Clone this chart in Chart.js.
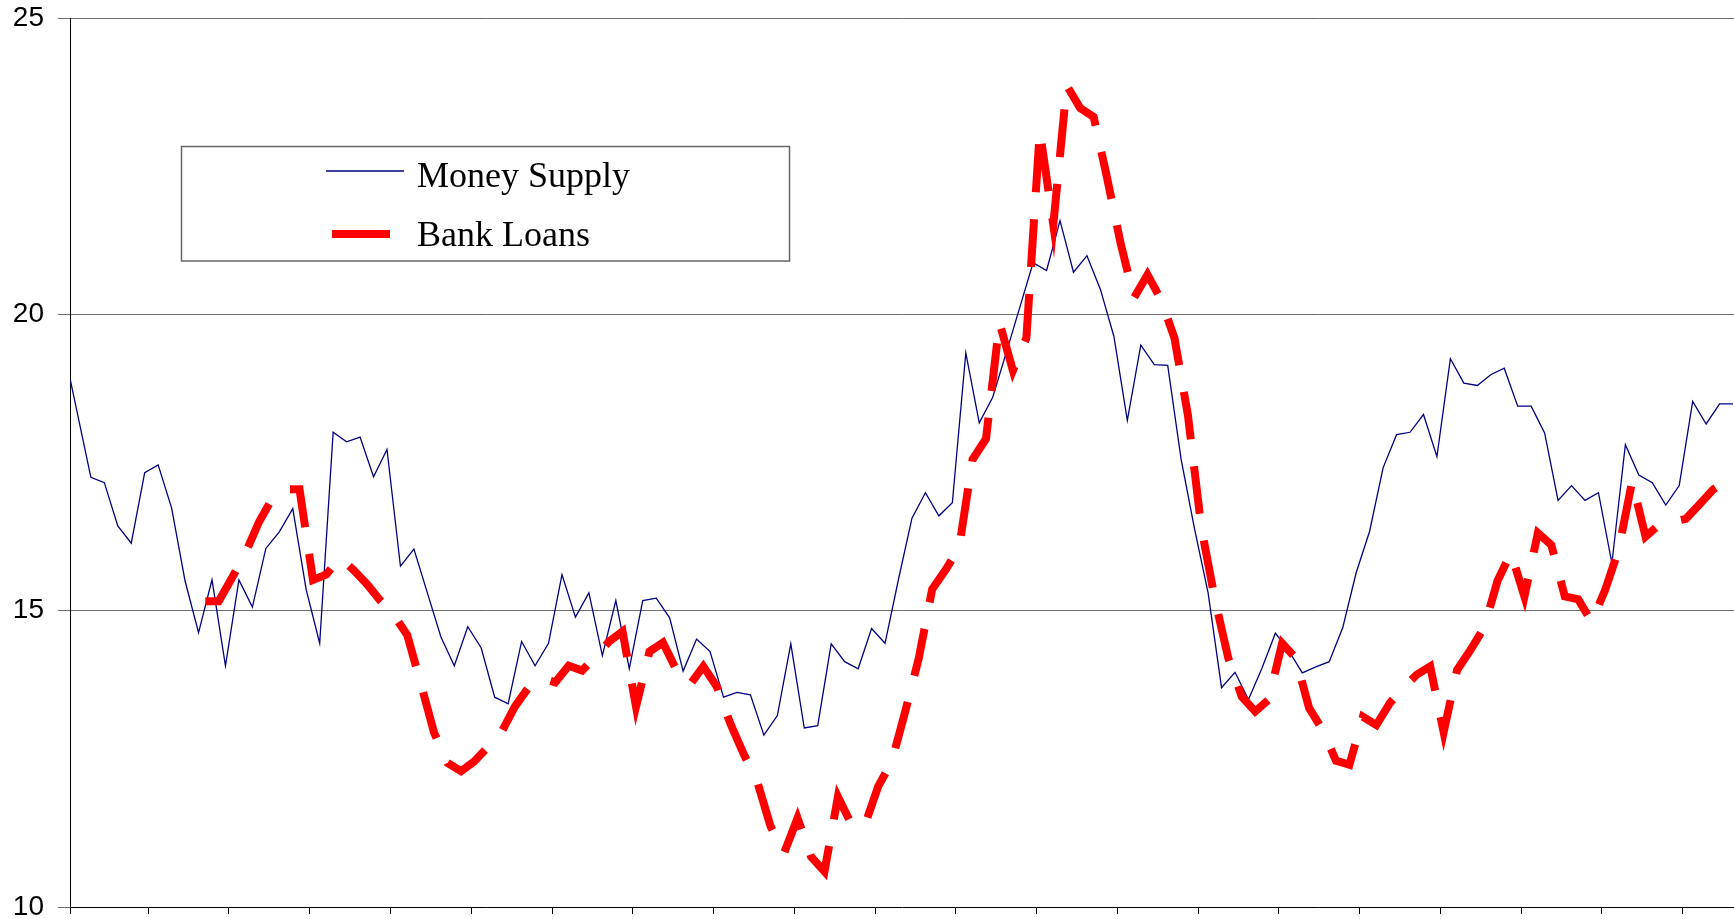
<!DOCTYPE html>
<html lang="en">
<head>
    <meta charset="UTF-8">
    <title>Money Supply and Bank Loans</title>
    <style>
        body {
            margin: 0;
            background-color: #ffffff;
        }
        #chart {
            display: block;
        }
    </style>
</head>
<body>

<canvas id="chart" width="1734" height="919"></canvas>

<script src="https://cdn.jsdelivr.net/npm/chart.js"></script>
<script>
    // Money supply, monthly (first value sits a little before month 0)
    const moneySupply = [
        18.92,
        17.25, 17.16, 16.43, 16.14, 17.33, 17.46, 16.73, 15.50, 14.63, 15.52,
        14.07, 15.52, 15.06, 16.05, 16.33, 16.72, 15.35, 14.45, 18.01, 17.85,
        17.93, 17.26, 17.72, 15.75, 16.04, 15.30, 14.56, 14.07, 14.73, 14.37,
        13.54, 13.43, 14.48, 14.07, 14.45, 15.61, 14.89, 15.30, 14.24, 15.17,
        14.02, 15.17, 15.21, 14.88, 13.98, 14.52, 14.31, 13.54, 13.62, 13.58,
        12.90, 13.23, 14.44, 13.02, 13.06, 14.44, 14.14, 14.02, 14.70, 14.45,
        15.53, 16.56, 16.99, 16.60, 16.82, 19.35, 18.17, 18.60, 19.35, 20.11,
        20.87, 20.74, 21.58, 20.71, 20.99, 20.42, 19.63, 18.21, 19.48, 19.15,
        19.14, 17.55, 16.37, 15.30, 13.70, 13.96, 13.50, 14.03, 14.62, 14.32,
        13.95, 14.05, 14.14, 14.71, 15.64, 16.34, 17.41, 17.97, 18.01, 18.31,
        17.60, 19.25, 18.84, 18.80, 18.98, 19.09, 18.45, 18.45, 18.00, 16.86,
        17.11, 16.86, 16.99, 15.80, 17.80, 17.29, 17.16, 16.78, 17.11, 18.53,
        18.15, 18.49, 18.49
    ];
    const moneyFirstMonth = -1.55;

    // Bank loans, monthly, mid-month, starting at month 8.5
    const bankLoans = [
        15.16, 15.16, 15.56, 15.98, 16.50, 16.90, 17.05, 17.05, 15.52, 15.61,
        15.90, 15.69, 15.45, 15.17, 14.93, 14.59, 13.78, 12.94, 12.43, 12.29,
        12.46, 12.70, 12.95, 13.38, 13.70, 13.86, 13.79, 14.07, 13.99, 14.23,
        14.48, 14.65, 13.38, 14.31, 14.46, 14.00, 13.75, 14.06, 13.72, 13.10,
        12.58, 12.12, 11.36, 10.91, 11.50, 10.85, 10.60, 11.86, 11.40, 11.38,
        12.04, 12.45, 13.30, 14.19, 15.36, 15.69, 16.06, 17.55, 17.90, 19.86,
        19.05, 19.60, 23.10, 21.51, 23.86, 23.48, 23.33, 22.30, 21.20, 20.28,
        20.67, 20.25, 19.60, 18.30, 16.40, 15.20, 14.20, 13.55, 13.30, 13.50,
        14.45, 14.20, 13.36, 12.99, 12.47, 12.40, 13.21, 13.07, 13.44, 13.70,
        13.92, 14.06, 12.95, 14.00, 14.34, 14.71, 15.50, 15.98, 15.24, 16.31,
        16.11, 15.24, 15.19, 14.81, 15.35, 16.03, 17.18, 16.25, 16.45, 16.50,
        16.55, 16.79, 17.04, 17.19
    ];
    const bankFirstMonth = 8.5;

    // x axis tick marks (months), y axis labels
    const xTickMonths = [-1.55, 4.26, 10.26, 16.26, 22.26, 28.26, 34.26, 40.26, 46.26, 52.26,
        58.26, 64.26, 70.26, 76.26, 82.26, 88.26, 94.26, 100.26, 106.26, 112.26, 118.26];
    const yTicks = [10, 15, 20, 25];

    const seriesNames = ['Money Supply', 'Bank Loans'];

    const moneyPoints = moneySupply.map((v, i) => ({
        x: i === 0 ? moneyFirstMonth : i - 1,
        y: v
    }));
    const bankPoints = bankLoans.map((v, i) => ({ x: bankFirstMonth + i, y: v }));

    // legend drawn as a framed box inside the plot, like the original
    const boxLegend = {
        id: 'boxLegend',
        afterDraw(chart) {
            const ctx = chart.ctx;
            const ds = chart.data.datasets;
            ctx.save();
            ctx.fillStyle = '#ffffff';
            ctx.fillRect(181.5, 146.5, 608, 114.5);
            ctx.strokeStyle = '#666666';
            ctx.lineWidth = 1.5;
            ctx.strokeRect(181.5, 146.5, 608, 114.5);

            ctx.lineCap = 'butt';
            ctx.strokeStyle = ds[1].borderColor;
            ctx.lineWidth = 1.3;
            ctx.beginPath();
            ctx.moveTo(326, 171);
            ctx.lineTo(404, 171);
            ctx.stroke();

            ctx.strokeStyle = ds[0].borderColor;
            ctx.lineWidth = 8;
            ctx.beginPath();
            ctx.moveTo(332, 234);
            ctx.lineTo(390, 234);
            ctx.stroke();

            ctx.fillStyle = '#000000';
            ctx.font = '36px "Liberation Serif", "Times New Roman", serif';
            ctx.textBaseline = 'alphabetic';
            ctx.fillText(ds[1].label, 417, 187);
            ctx.fillText(ds[0].label, 417, 246);
            ctx.restore();
        }
    };

    const ctx = document.getElementById('chart').getContext('2d');
    const chart = new Chart(ctx, {
        type: 'line',
        data: {
            datasets: [{
                label: seriesNames[1],
                data: bankPoints,
                borderColor: '#ff0000',
                borderWidth: 8,
                borderDash: [48, 27],
                borderCapStyle: 'butt',
                borderJoinStyle: 'miter',
                pointRadius: 0,
                tension: 0,
                order: 0
            }, {
                label: seriesNames[0],
                data: moneyPoints,
                borderColor: '#000080',
                borderWidth: 1.3,
                borderJoinStyle: 'miter',
                pointRadius: 0,
                tension: 0,
                order: 1
            }]
        },
        options: {
            responsive: false,
            animation: false,
            layout: {
                padding: { top: 18, left: 0, right: 0, bottom: 0 }
            },
            plugins: {
                legend: { display: false },
                tooltip: { enabled: false }
            },
            scales: {
                x: {
                    type: 'linear',
                    min: moneyFirstMonth,
                    max: 122.07,
                    afterBuildTicks: (scale) => {
                        scale.ticks = xTickMonths.map(v => ({ value: v }));
                    },
                    afterFit: (scale) => {
                        scale.height = 12;
                        scale.paddingLeft = 0;
                        scale.paddingRight = 0;
                    },
                    ticks: { display: false },
                    grid: {
                        drawOnChartArea: false,
                        drawTicks: true,
                        tickLength: 7,
                        color: '#000000',
                        lineWidth: 1
                    },
                    border: { color: '#000000', width: 1 }
                },
                y: {
                    min: 10,
                    max: 25,
                    afterBuildTicks: (scale) => {
                        scale.ticks = yTicks.map(v => ({ value: v }));
                    },
                    afterFit: (scale) => {
                        scale.width = 70;
                        scale.paddingTop = 0;
                        scale.paddingBottom = 0;
                    },
                    ticks: {
                        padding: 14,
                        color: '#000000',
                        font: { family: '"Liberation Sans", Arial, sans-serif', size: 28 }
                    },
                    grid: {
                        tickLength: 12,
                        color: (c) => c.tick && c.tick.value === 10 ? 'rgba(0,0,0,0)' : '#6e6e6e',
                        tickColor: '#6e6e6e',
                        lineWidth: 1
                    },
                    border: { color: '#000000', width: 1 }
                }
            }
        },
        plugins: [boxLegend]
    });
</script>
</body>
</html>
